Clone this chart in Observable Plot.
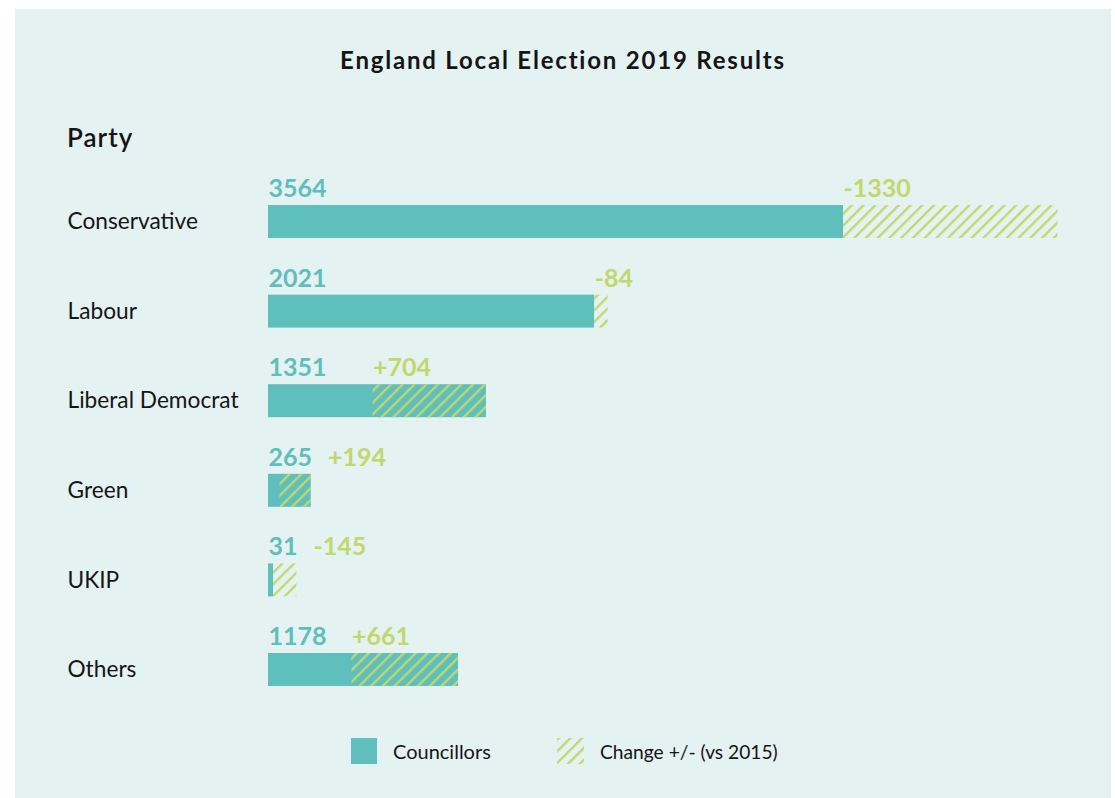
<!DOCTYPE html>
<html>
<head>
<meta charset="utf-8">
<script src="https://cdn.jsdelivr.net/npm/d3@7"></script>
<script src="https://cdn.jsdelivr.net/npm/@observablehq/plot@0.6"></script>
<style>
  html, body { margin: 0; padding: 0; background: #ffffff; }
  body { width: 1115px; height: 798px; position: relative; overflow: hidden; font-family: Lato, "Noto Sans", sans-serif; color: #151515; }
  #panel { position: absolute; left: 15px; top: 9px; width: 1096px; height: 789px; background: #e4f2f2; }
  #title { position: absolute; left: 0; top: 36px; width: 100%; height: 30px; line-height: 30px; text-align: center; font-size: 24px; font-weight: 700; letter-spacing: 1.8px; }
  #party { position: absolute; left: 52px; top: 113px; height: 30px; line-height: 30px; font-size: 26px; font-weight: 600; letter-spacing: 1px; }
  #chart { position: absolute; left: 0; top: 151px; }
  #legend { position: absolute; left: 0; top: 729px; width: 100%; height: 26px; }
  .item { position: absolute; top: 0; height: 26px; display: flex; align-items: center; font-size: 20px; }
  .item svg { margin-right: 16px; }
</style>
</head>
<body>
<div id="panel">
  <div id="title">England Local Election 2019 Results</div>
  <div id="party">Party</div>
  <div id="chart"></div>
  <div id="legend"></div>
</div>
<script>
// ---- data ----
const parties = ["Conservative", "Labour", "Liberal Democrat", "Green", "UKIP", "Others"];
const councillors = [3564, 2021, 1351, 265, 31, 1178];
const change = [-1330, -84, 704, 194, -145, 661];
const changeLabels = ["-1330", "-84", "+704", "+194", "-145", "+661"];
const legendLabels = ["Councillors", "Change +/- (vs 2015)"];

// ---- styles ----
const TEAL = "#5fbfbc";
const GREEN = "#c2d76c";
const LABEL_FONT = "700 25px Lato, 'Noto Sans', sans-serif";

// x scale (data -> px) used also to keep change labels clear of value labels
const xDomain = [0, 3564], xRange = [253, 828];
const k = (xRange[1] - xRange[0]) / (xDomain[1] - xDomain[0]);
const ctx = document.createElement("canvas").getContext("2d");
ctx.font = LABEL_FONT;

const rows = parties.map((p, i) => {
  const v = councillors[i], c = change[i];
  const h1 = c > 0 ? v - c : v;
  const h2 = c > 0 ? v : v - c;
  const valueLabel = String(v);
  const minPx = ctx.measureText(valueLabel).width + 16;   // gap after value label
  const labelX = Math.max(h1, minPx / k);
  return { party: p, value: v, valueLabel, h1, h2, labelX, changeLabel: changeLabels[i] };
});

const chart = Plot.plot({
  width: 1096,
  height: 570,
  marginLeft: 0, marginRight: 0, marginTop: 0, marginBottom: 0,
  style: { background: "transparent", fontFamily: "Lato, 'Noto Sans', sans-serif", overflow: "visible" },
  x: { domain: xDomain, range: xRange, axis: null },
  y: { domain: parties, range: [-11.6, 582.6], padding: 0.632, round: false, axis: null },
  marks: [
    Plot.barX(rows, { x1: 0, x2: "value", y: "party", fill: TEAL }),
    Plot.barX(rows, { x1: "h1", x2: "h2", y: "party", fill: "url(#hatch)" }),
    Plot.text(rows, { x: 0, y: "party", text: "party", dx: -201, textAnchor: "start", fontSize: 22.7, fill: "#151515" }),
    Plot.text(rows, { x: 0, y: "party", text: "valueLabel", dy: -25, lineAnchor: "bottom", textAnchor: "start", fontSize: 25, fontWeight: 700, fill: TEAL }),
    Plot.text(rows, { x: "labelX", y: "party", text: "changeLabel", dy: -25, lineAnchor: "bottom", textAnchor: "start", fontSize: 25, fontWeight: 700, fill: GREEN })
  ]
});

// hatch pattern definition
const ns = "http://www.w3.org/2000/svg";
function makePattern(id) {
  const defs = document.createElementNS(ns, "defs");
  defs.innerHTML = `<pattern id="${id}" patternUnits="userSpaceOnUse" width="8.3" height="8.3" patternTransform="rotate(45)">
      <line x1="1.2" y1="-1" x2="1.2" y2="9.3" stroke="${GREEN}" stroke-width="2.3"/></pattern>`;
  return defs;
}
chart.insertBefore(makePattern("hatch"), chart.firstChild);
document.getElementById("chart").appendChild(chart);

// legend
const legend = document.getElementById("legend");
legend.innerHTML = `
  <div class="item" style="left:336px"><svg width="26" height="26"><rect width="26" height="26" fill="${TEAL}"/></svg><span>${legendLabels[0]}</span></div>
  <div class="item" style="left:542px"><svg width="27" height="26"><defs>${makePattern("hatchL").innerHTML}</defs><rect width="27" height="26" fill="url(#hatchL)"/></svg><span style="font-size:19.2px">${legendLabels[1]}</span></div>`;
</script>
</body>
</html>
